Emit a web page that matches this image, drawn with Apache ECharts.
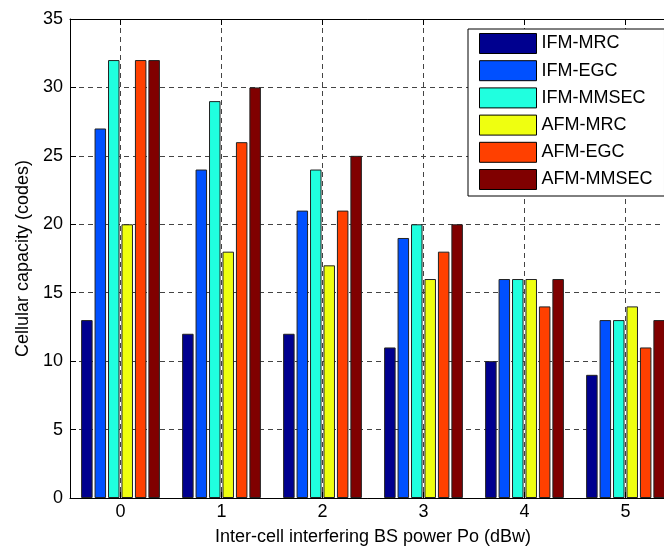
<!DOCTYPE html>
<html>
<head>
<meta charset="utf-8">
<script src="https://cdn.jsdelivr.net/npm/echarts@6/dist/echarts.min.js"></script>
<style>html,body{margin:0;padding:0;background:#fff}#c{width:664px;height:547px}</style>
</head>
<body>
<div id="c"></div>
<script>
const categories = ['0', '1', '2', '3', '4', '5'];
const seriesNames = ['IFM-MRC', 'IFM-EGC', 'IFM-MMSEC', 'AFM-MRC', 'AFM-EGC', 'AFM-MMSEC'];
const ifmMrc   = [13, 12, 12, 11, 10, 9];
const ifmEgc   = [27, 24, 21, 19, 16, 13];
const ifmMmsec = [32, 29, 24, 20, 16, 13];
const afmMrc   = [20, 18, 17, 16, 16, 14];
const afmEgc   = [32, 26, 21, 18, 14, 11];
const afmMmsec = [32, 30, 25, 20, 16, 13];
const yTicks = [0, 5, 10, 15, 20, 25, 30, 35];

const seriesData = [ifmMrc, ifmEgc, ifmMmsec, afmMrc, afmEgc, afmMmsec];
const colors = ['#00008F', '#0050FF', '#20FFDF', '#EFFF10', '#FF4000', '#800000'];
const FONT = '"Liberation Sans", Arial, sans-serif';

// helper half-step axis so that grid lines/ticks fall on category centres
const halfCats = [''];
categories.forEach(c => { halfCats.push(c); halfCats.push(' ' + c); });
const onCenter = (i) => i % 2 === 1;

const chart = echarts.init(document.getElementById('c'), null, {renderer: 'canvas'});
chart.setOption({
  animation: false,
  backgroundColor: '#fff',
  color: colors,
  grid: {left: 70, width: 606, top: 19, height: 479, containLabel: false, outerBoundsMode: 'none'},
  legend: {
    data: seriesNames,
    orient: 'vertical',
    left: 468, top: 29,
    padding: [4, 12, 6, 11],
    itemWidth: 57, itemHeight: 20, itemGap: 6.2,
    backgroundColor: '#fff',
    borderColor: '#000', borderWidth: 1,
    icon: 'rect',
    itemStyle: {borderColor: '#000', borderWidth: 1},
    textStyle: {fontFamily: FONT, fontSize: 18, color: '#000', lineHeight: 20}
  },
  xAxis: [
    {
      type: 'category', data: categories, position: 'bottom',
      axisLine: {show: true, lineStyle: {color: '#000', width: 1}},
      axisTick: {show: false},
      axisLabel: {fontFamily: FONT, fontSize: 18, color: '#000', margin: 5},
      splitLine: {show: false},
      name: 'Inter-cell interfering BS power Po (dBw)',
      nameLocation: 'middle', nameGap: 30,
      nameTextStyle: {fontFamily: FONT, fontSize: 18, color: '#000'}
    },
    {
      type: 'category', data: halfCats, boundaryGap: false, position: 'bottom',
      axisLine: {show: false}, axisLabel: {show: false},
      axisTick: {show: true, inside: true, length: 6, interval: onCenter, lineStyle: {color: '#000'}},
      splitLine: {show: true, interval: onCenter, lineStyle: {color: '#444', type: [5, 4], width: 1}}
    },
    {
      type: 'category', data: halfCats, boundaryGap: false, position: 'top',
      axisLine: {show: true, lineStyle: {color: '#000', width: 1}}, axisLabel: {show: false},
      axisTick: {show: true, inside: true, length: 6, interval: onCenter, lineStyle: {color: '#000'}},
      splitLine: {show: false}
    }
  ],
  yAxis: {
    type: 'value', min: yTicks[0], max: yTicks[yTicks.length - 1], interval: 5,
    axisLine: {show: true, lineStyle: {color: '#000', width: 1}},
    axisTick: {show: true, inside: true, length: 6, lineStyle: {color: '#000'}},
    axisLabel: {fontFamily: FONT, fontSize: 18, color: '#000', margin: 7},
    splitLine: {show: true, lineStyle: {color: '#444', type: [5, 4], width: 1}},
    name: 'Cellular capacity (codes)', nameLocation: 'middle', nameGap: 38,
    nameTextStyle: {fontFamily: FONT, fontSize: 18, color: '#000'}
  },
  series: seriesNames.map((n, i) => ({
    name: n, type: 'bar', xAxisIndex: 0, data: seriesData[i],
    barWidth: 11.5, barGap: '17%',
    itemStyle: {color: colors[i], borderColor: '#222', borderWidth: 1}
  }))
});
</script>
</body>
</html>
